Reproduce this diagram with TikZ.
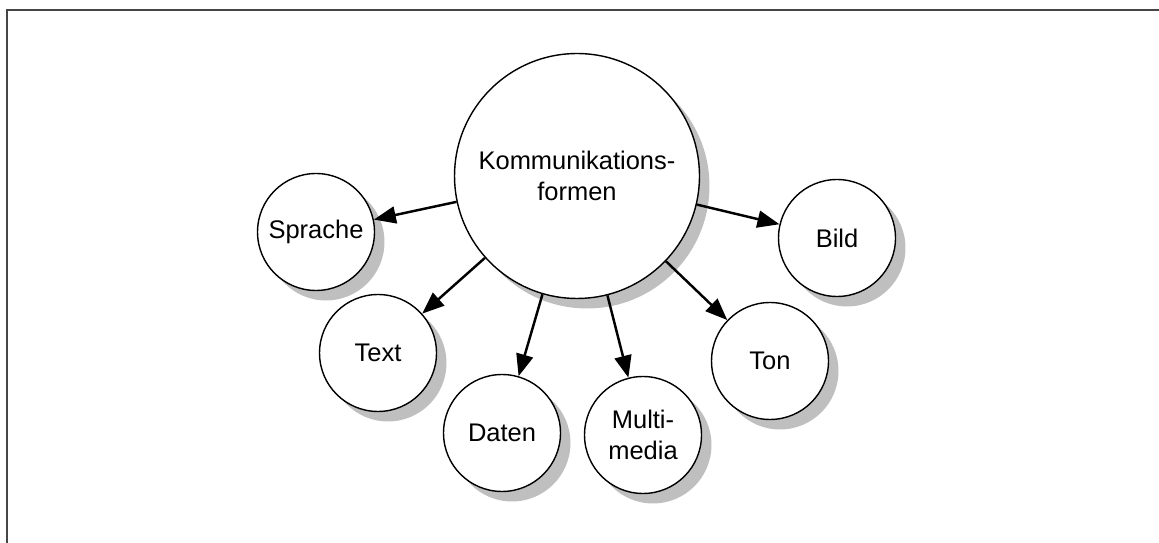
\documentclass[tikz,border=0pt]{standalone}
\usepackage{fontspec}
\setmainfont{Liberation Sans}
\usepackage{tikz}
\usetikzlibrary{arrows.meta,shadows}
\definecolor{framegray}{RGB}{70,70,70}
\tikzset{%
    shade circle/.style={%
        drop shadow={shadow xshift=0.2cm,shadow yshift=-0.2cm,
          fill=gray!50,opacity=1}
    }
}

\begin{document}
\begin{tikzpicture}[x=0.02cm,y=-0.02cm,->,>={Triangle[length=0.44cm,width=0.34cm]},
  line width=1.4pt,
  main node/.style={circle,draw,line width=0.8pt,fill=white,shade circle,
    inner sep=0pt,align=center,font=\fontsize{14.5}{17.5}\selectfont},
  small node/.style={main node,minimum size=2.34cm},
  big node/.style={main node,minimum size=4.9cm}]

  \useasboundingbox (0,0) rectangle (1159,543);
  \draw[-,line width=0.6pt,framegray] (1159,10) -- (7,10) -- (7,543);

  \node[big node] (0) at (577,176) {Kommunikations-\\formen};
  \node[small node] (1) at (316,232) {Sprache};
  \node[small node] (2) at (378,353) {Text};
  \node[small node] (3) at (502,433) {Daten};
  \node[small node] (4) at (643,435) {Multi-\\media};
  \node[small node] (5) at (770,361) {Ton};
  \node[small node] (6) at (837,238) {Bild};

\path
	(0) edge (1)
	(0) edge (2)
	(0) edge (3)
	(0) edge (4)
	(0) edge (5)
	(0) edge (6);
\end{tikzpicture}
\end{document}
